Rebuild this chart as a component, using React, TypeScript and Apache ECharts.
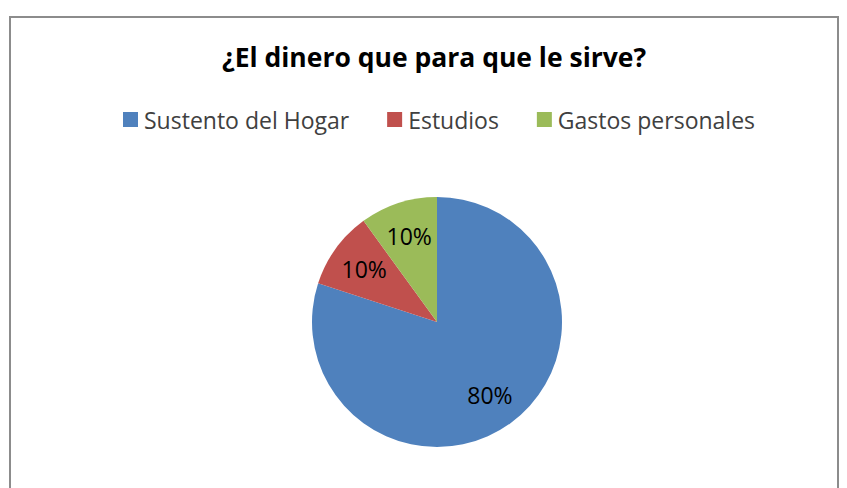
import React, { useEffect, useRef } from "react";
import * as echarts from "echarts";

const titleText = "¿El dinero que para que le sirve?";
const categories = ["Sustento del Hogar", "Estudios", "Gastos personales"];
const values = [80, 10, 10];
const colors = ["#4F81BD", "#C0504D", "#9BBB59"];

export default function App() {
  const ref = useRef<HTMLDivElement>(null);

  useEffect(() => {
    if (!ref.current) return;
    const chart = echarts.init(ref.current, undefined, { renderer: "svg" });
    const data = categories.map((name, i) => ({ name, value: values[i] }));
    const font = "'Open Sans', 'Noto Sans', sans-serif";
    chart.setOption({
      animation: false,
      backgroundColor: "#ffffff",
      color: colors,
      title: {
        text: titleText,
        left: 222,
        top: 43,
        padding: 0,
        textStyle: { fontFamily: font, fontSize: 26.5, fontWeight: "bold", color: "#000000" },
      },
      legend: {
        data: categories,
        left: 123,
        top: 108,
        padding: 0,
        icon: "rect",
        itemWidth: 15,
        itemHeight: 15,
        itemGap: 38,
        textStyle: { fontFamily: font, fontSize: 23, color: "#404040", padding: [0, 0, 0, 1] },
        selectedMode: false,
      },
      graphic: [
        {
          type: "rect",
          shape: { x: 10, y: 17, width: 828, height: 520 },
          style: { fill: "none", stroke: "#8c8c8c", lineWidth: 2 },
          silent: true,
        },
      ],
      series: [
        {
          type: "pie",
          center: [437, 322],
          radius: 125,
          startAngle: 90,
          clockwise: true,
          label: { show: false },
          labelLine: { show: false },
          itemStyle: { borderWidth: 0 },
          emphasis: { disabled: true },
          data,
        },
        {
          type: "pie",
          center: [437, 322],
          radius: [49, 125],
          startAngle: 90,
          clockwise: true,
          silent: true,
          legendHoverLink: false,
          itemStyle: { color: "rgba(0,0,0,0)", borderWidth: 0 },
          label: {
            show: true,
            position: "inside",
            formatter: "{d}%",
            fontFamily: font,
            fontSize: 23,
            color: "#000000",
          },
          labelLine: { show: false },
          emphasis: { disabled: true },
          data: categories.map((name, i) => ({ name: name + " ", value: values[i] })),
        },
      ],
    });
    return () => chart.dispose();
  }, []);

  return (
    <div
      ref={ref}
      style={{ position: "fixed", left: 0, top: 0, width: 847, height: 488 }}
    />
  );
}
